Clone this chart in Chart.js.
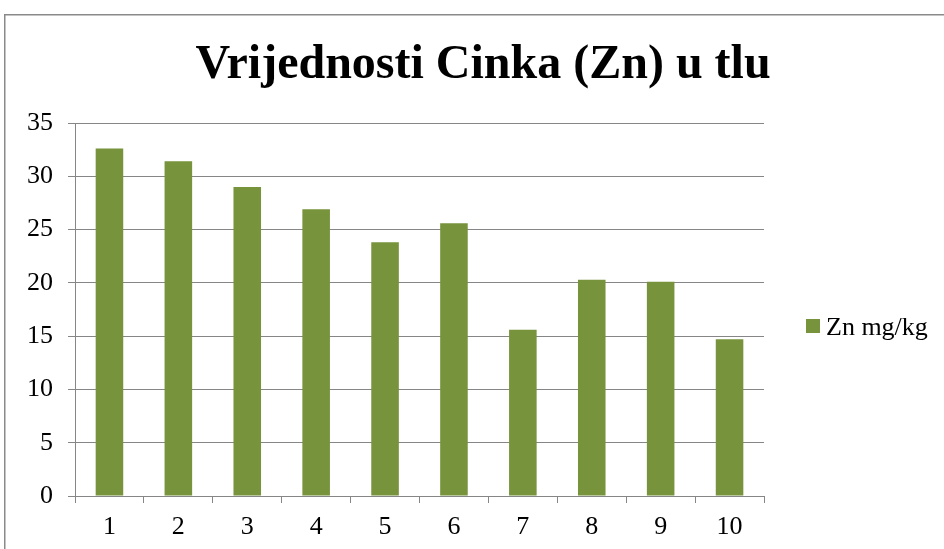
<!DOCTYPE html>
<html>
<head>
<meta charset="utf-8">
<title>Vrijednosti Cinka (Zn) u tlu</title>
<script src="https://cdn.jsdelivr.net/npm/chart.js@4/dist/chart.umd.min.js"></script>
<style>
  html, body { margin: 0; padding: 0; background: #fff; }
  canvas { display: block; }
</style>
</head>
<body>
<canvas id="znChart" width="944" height="549"></canvas>
<script>
// chart data
const sampleLabels = ['1', '2', '3', '4', '5', '6', '7', '8', '9', '10'];
const znValues = [32.6, 31.4, 29.0, 26.9, 23.8, 25.6, 15.6, 20.3, 20.1, 14.7];
const seriesName = 'Zn mg/kg';
const chartTitle = 'Vrijednosti Cinka (Zn) u tlu';
const yTicks = [0, 5, 10, 15, 20, 25, 30, 35];

const serif = "'Liberation Serif', 'Times New Roman', serif";
const barGreen = '#77933C';
const gridGray = '#868686';

// outer frame of the chart object (runs off the right / bottom edge)
const framePlugin = {
  id: 'frame',
  beforeDraw(chart) {
    const ctx = chart.ctx;
    ctx.save();
    ctx.strokeStyle = '#8a8a8a';
    ctx.lineWidth = 1.5;
    ctx.strokeRect(4.75, 14.75, chart.width + 20, chart.height + 20);
    ctx.restore();
  }
};

// legend on the right, like Excel places it
const sideLegend = {
  id: 'sideLegend',
  afterDraw(chart) {
    const ctx = chart.ctx;
    const ds = chart.data.datasets[0];
    ctx.save();
    ctx.fillStyle = ds.backgroundColor;
    ctx.fillRect(806, 319, 14, 14);
    ctx.fillStyle = '#000';
    ctx.font = '26px ' + serif;
    ctx.textBaseline = 'alphabetic';
    ctx.textAlign = 'left';
    ctx.fillText(ds.label, 826, 335);
    ctx.restore();
  }
};

new Chart(document.getElementById('znChart'), {
  type: 'bar',
  data: {
    labels: sampleLabels,
    datasets: [
      {
        label: seriesName,
        data: znValues,
        backgroundColor: barGreen,
        borderWidth: 0,
        barPercentage: 0.4,
        categoryPercentage: 1.0,
      },
    ],
  },
  options: {
    responsive: false,
    animation: false,
    devicePixelRatio: 1,
    layout: {
      padding: { left: 22, right: 0, top: 0, bottom: 0 },
    },
    scales: {
      x: {
        grid: {
          offset: true,
          drawOnChartArea: false,
          drawTicks: true,
          tickLength: 7,
          color: gridGray,
          lineWidth: 1,
        },
        border: { display: true, color: gridGray, width: 1 },
        ticks: {
          color: '#000',
          font: { family: serif, size: 26 },
          padding: 9,
          maxRotation: 0,
        },
        afterFit(scale) {
          scale.height = 53;
        },
      },
      y: {
        min: 0,
        max: 35,
        afterBuildTicks(scale) {
          scale.ticks = yTicks.map(v => ({ value: v }));
        },
        grid: {
          drawTicks: true,
          tickLength: 7,
          color: gridGray,
          lineWidth: 1,
        },
        border: { display: true, color: gridGray, width: 1 },
        ticks: {
          color: '#000',
          font: { family: serif, size: 26 },
          padding: 15,
        },
        afterFit(scale) {
          scale.width = 53;
        },
      },
      // empty axis that reserves the legend column on the right
      legendSpace: {
        type: 'linear',
        position: 'right',
        grid: { display: false },
        border: { display: false },
        ticks: { display: false },
        afterFit(scale) {
          scale.width = 180;
        },
      },
    },
    plugins: {
      legend: { display: false },
      tooltip: { enabled: false },
      title: {
        display: true,
        text: chartTitle,
        color: '#000',
        font: { family: serif, size: 48, weight: 'bold', lineHeight: 1.2 },
        padding: { top: 37, bottom: 28.4 },
      },
    },
  },
  plugins: [framePlugin, sideLegend],
});
</script>
</body>
</html>
